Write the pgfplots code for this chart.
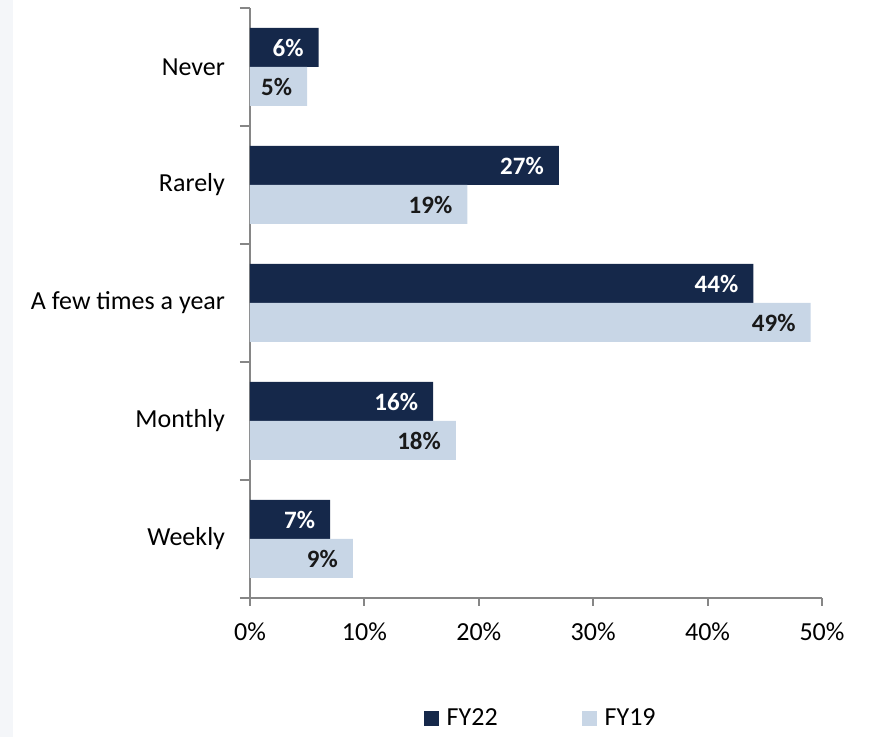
\documentclass[border=0pt]{standalone}
\usepackage{fontspec}
\setmainfont{Carlito}
\usepackage{pgfplots}
\pgfplotsset{compat=1.18}
\definecolor{fydark}{HTML}{15284A}
\definecolor{fylight}{HTML}{C8D6E6}
\definecolor{axgray}{HTML}{868686}
\definecolor{stripgray}{HTML}{F4F6F9}
\begin{document}
\begin{tikzpicture}
\useasboundingbox (-125pt,-69.5pt) rectangle (312pt,299pt);
\fill[stripgray] (-125pt,-69.5pt) rectangle (-118.5pt,299pt);
\begin{axis}[
  at={(0,0)}, anchor=south west,
  width=286pt, height=295pt, scale only axis,
  xbar, bar width=19.5pt,
  xmin=0, xmax=50, ymin=-0.5, ymax=4.5,
  axis x line*=bottom, axis y line*=left,
  axis line style={draw=axgray, line width=1pt, -},
  xtick={0,10,...,50},
  xticklabel={\pgfmathprintnumber{\tick}\%},
  ytick={0,1,2,3,4},
  yticklabels={Weekly, Monthly, A few times a year, Rarely, Never},
  minor ytick={-0.5,0.5,...,4.5},
  major tick length=4pt,
  tick align=outside,
  tick style={draw=axgray, line width=1pt},
  every major y tick/.style={draw=none},
  every minor y tick/.style={draw=axgray, line width=1pt},
  minor tick length=5pt,
  /pgf/number format/assume math mode=true,
  tick label style={font=\fontsize{13}{15}\selectfont, text=black},
  xticklabel style={yshift=-5pt},
  yticklabel style={xshift=-5pt},
  point meta=x,
  nodes near coords={\pgfmathprintnumber{\pgfplotspointmeta}\%},
  every node near coord/.append style={anchor=east, xshift=-4pt,
    font=\fontsize{12.5}{14}\selectfont\bfseries},
  legend style={at={(0.51,-0.205)}, anchor=center, draw=none, fill=none,
    legend columns=2, font=\fontsize{13}{15}\selectfont,
    /tikz/every even column/.append style={column sep=40pt}},
  legend image code/.code={\fill[#1] (0pt,-3.75pt) rectangle (7.5pt,3.75pt);},
]
\addplot[forget plot, fill=fydark, draw=none, bar shift=9.75pt,
  every node near coord/.append style={text=white}]
  coordinates {(7,0) (16,1) (44,2) (27,3) (6,4)};
\addplot[forget plot, fill=fylight, draw=none, bar shift=-9.75pt,
  every node near coord/.append style={text=black!90}]
  coordinates {(9,0) (18,1) (49,2) (19,3) (5,4)};
\addlegendimage{fill=fydark, draw=none}
\addlegendentry{\hspace{2pt}FY22}
\addlegendimage{fill=fylight, draw=none}
\addlegendentry{\hspace{2pt}FY19}
\end{axis}
\end{tikzpicture}
\end{document}
